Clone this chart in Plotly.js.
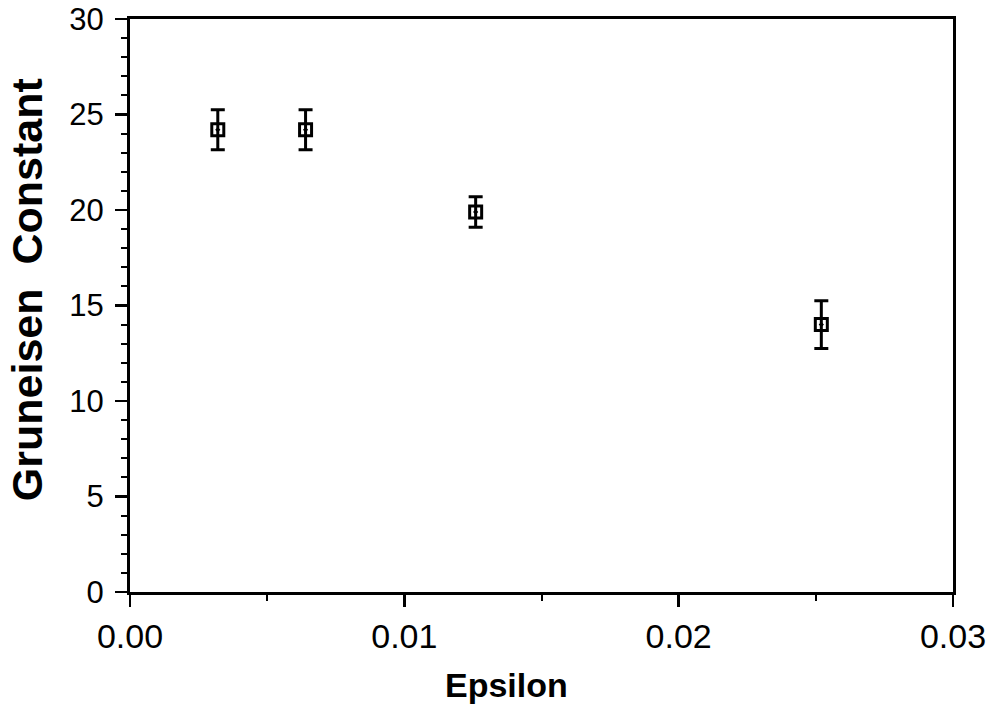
<!DOCTYPE html>
<html>
<head>
<meta charset="utf-8">
<script src="https://cdn.plot.ly/plotly-3.0.1.min.js"></script>
<style>
  html, body { margin: 0; padding: 0; background: #fff; }
  #chart { width: 997px; height: 716px; }
</style>
</head>
<body>
<div id="chart"></div>
<script>
// Strain amplitude (epsilon) and the fitted Gruneisen constant with its uncertainty
const epsilon = [0.0032, 0.0064, 0.0126, 0.0252];
const gruneisen = [24.2, 24.2, 19.9, 14.0];
const gruneisenErr = [1.05, 1.05, 0.8, 1.25];

const xTickVals = [0, 0.01, 0.02, 0.03];
const xTickText = ['0.00', '0.01', '0.02', '0.03'];
const yTickVals = [0, 5, 10, 15, 20, 25, 30];
const yTickText = ['0', '5', '10', '15', '20', '25', '30'];

const xTitle = 'Epsilon';
const yTitle = 'Gruneisen  Constant';

const font = 'Liberation Sans, Arial, Helvetica, sans-serif';

const trace = {
  x: epsilon,
  y: gruneisen,
  type: 'scatter',
  mode: 'markers',
  marker: {
    symbol: 'square-open-dot',
    size: 12,
    color: '#000',
    line: { color: '#000', width: 3 }
  },
  error_y: {
    type: 'data',
    array: gruneisenErr,
    visible: true,
    color: '#000',
    thickness: 3,
    width: 7
  },
  showlegend: false,
  hoverinfo: 'x+y'
};

const layout = {
  width: 997,
  height: 716,
  margin: { l: 130, r: 44, t: 19, b: 124 },
  paper_bgcolor: '#fff',
  plot_bgcolor: '#fff',
  font: { family: font, color: '#000', size: 34 },
  xaxis: {
    range: [0, 0.03],
    tickvals: xTickVals,
    ticktext: xTickText,
    ticks: 'outside',
    ticklen: 12,
    tickwidth: 2.5,
    tickcolor: '#000',
    ticklabelstandoff: 0,
    ticklabeloverflow: 'allow',
    minor: { dtick: 0.005, ticks: 'outside', ticklen: 6, tickwidth: 2, tickcolor: '#000', showgrid: false },
    showline: true,
    linecolor: '#000',
    linewidth: 3,
    mirror: true,
    showgrid: false,
    zeroline: false,
    tickfont: { size: 34, family: font }
  },
  yaxis: {
    range: [-0.0001, 30.0001],
    tickvals: yTickVals,
    ticktext: yTickText,
    ticks: 'outside',
    ticklen: 12,
    tickwidth: 2.5,
    tickcolor: '#000',
    ticklabelstandoff: 5,
    ticklabeloverflow: 'allow',
    minor: { dtick: 1, ticks: 'outside', ticklen: 6, tickwidth: 2, tickcolor: '#000', showgrid: false },
    showline: true,
    linecolor: '#000',
    linewidth: 3,
    mirror: true,
    showgrid: false,
    zeroline: false,
    tickfont: { size: 31, family: font }
  },
  annotations: [
    {
      text: xTitle,
      xref: 'paper', yref: 'paper',
      x: 0.458, y: -0.162,
      xanchor: 'center', yanchor: 'middle',
      showarrow: false,
      font: { size: 34, family: font, weight: 'bold' }
    },
    {
      text: yTitle,
      xref: 'paper', yref: 'paper',
      x: -0.125, y: 0.527,
      xanchor: 'center', yanchor: 'middle',
      textangle: -90,
      showarrow: false,
      font: { size: 43, family: font, weight: 'bold' }
    }
  ]
};

Plotly.newPlot('chart', [trace], layout, { displayModeBar: false, staticPlot: true });
</script>
</body>
</html>
